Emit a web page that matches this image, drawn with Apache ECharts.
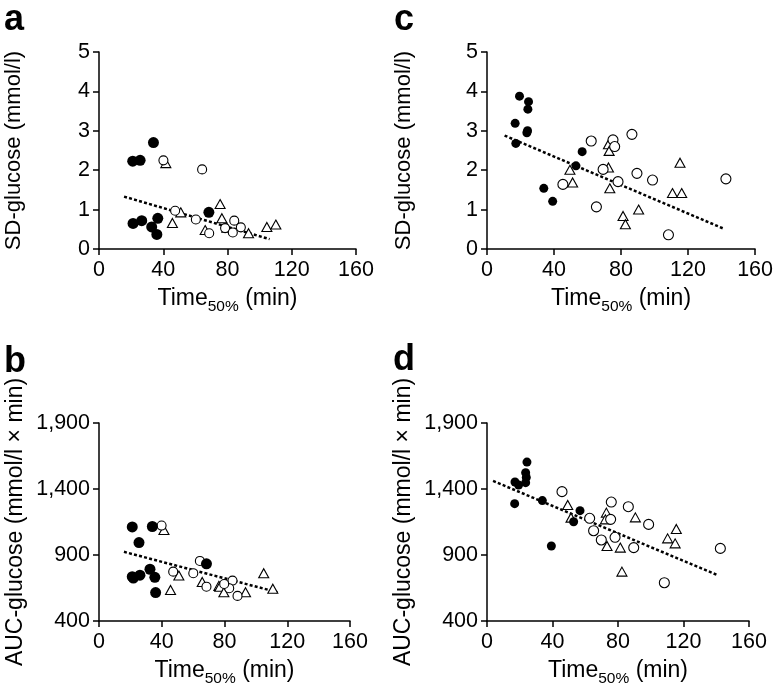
<!DOCTYPE html>
<html>
<head>
<meta charset="utf-8">
<script src="https://cdn.jsdelivr.net/npm/echarts@6/dist/echarts.min.js"></script>
<style>
  html, body { margin: 0; padding: 0; background: #fff; }
  #chart { width: 776px; height: 691px; }
</style>
</head>
<body>
<div id="chart"></div>
<script>
// x ticks shared by all panels
const xTicks = [0, 40, 80, 120, 160];
const sdTicks = [0, 1, 2, 3, 4, 5];
const aucTicks = [400, 900, 1400, 1900];

// panel a: SD-glucose vs Time50%
const aFilled = [[21.0, 2.23], [25.6, 2.25], [33.9, 2.70], [21.2, 0.65], [26.6, 0.72], [32.8, 0.56], [36.6, 0.78], [36.0, 0.37], [68.4, 0.93]];
const aOpen = [[40.1, 2.25], [64.2, 2.02], [47.4, 0.97], [60.3, 0.75], [68.6, 0.40], [84.2, 0.72], [88.3, 0.55], [78.5, 0.53], [83.3, 0.42]];
const aTri = [[41.6, 2.18], [75.4, 1.14], [50.9, 0.93], [45.7, 0.66], [76.5, 0.78], [66.1, 0.48], [79.6, 0.54], [93.1, 0.40], [104.5, 0.56], [110.1, 0.62]];
const aFit = [[15.6, 1.33], [106.2, 0.25]];

// panel b: AUC-glucose vs Time50%
const bFilled = [[21.2, 1113], [34.0, 1116], [25.5, 994], [21.2, 736], [21.9, 725], [26.1, 747], [32.5, 792], [35.6, 731], [36.1, 615], [68.5, 833]];
const bOpen = [[39.9, 1123], [64.3, 855], [47.3, 774], [60.1, 762], [68.5, 660], [85.1, 706], [83.0, 648], [88.3, 590], [79.8, 680]];
const bTri = [[41.4, 1090], [50.9, 744], [45.6, 635], [65.8, 696], [76.4, 666], [77.0, 660], [79.6, 618], [93.4, 618], [105.0, 762], [110.8, 645]];
const bFit = [[15.9, 924], [113.7, 618]];

// panel c
const cFilled = [[19.4, 3.88], [24.8, 3.74], [24.4, 3.55], [16.8, 3.19], [24.2, 3.00], [23.8, 2.95], [17.2, 2.68], [56.8, 2.47], [53.1, 2.11], [33.9, 1.54], [39.2, 1.21]];
const cOpen = [[62.2, 2.74], [75.2, 2.77], [76.2, 2.60], [86.5, 2.91], [69.3, 2.02], [45.3, 1.64], [78.2, 1.71], [89.5, 1.92], [98.8, 1.75], [142.6, 1.78], [65.3, 1.07], [108.3, 0.36]];
const cTri = [[72.5, 2.66], [72.9, 2.49], [49.5, 2.01], [51.1, 1.69], [72.5, 2.07], [73.3, 1.54], [90.5, 1.00], [81.2, 0.84], [82.6, 0.63], [115.2, 2.19], [110.7, 1.42], [116.2, 1.42]];
const cFit = [[10.5, 2.88], [141.6, 0.51]];

// panel d
const dFilled = [[24.4, 1604], [23.6, 1524], [24.0, 1488], [23.6, 1448], [17.1, 1453], [19.3, 1430], [16.9, 1289], [33.8, 1312], [56.8, 1236], [52.9, 1152], [39.3, 968]];
const dOpen = [[45.8, 1380], [75.9, 1301], [86.3, 1266], [62.7, 1178], [75.5, 1170], [65.1, 1084], [69.8, 1014], [78.2, 1034], [98.7, 1132], [89.6, 956], [142.5, 950], [108.3, 690]];
const dTri = [[49.3, 1279], [51.3, 1183], [72.9, 1221], [72.3, 1170], [90.6, 1185], [73.3, 968], [81.4, 956], [82.4, 774], [115.6, 1097], [110.3, 1026], [114.9, 988]];
const dFit = [[3.7, 1461], [141.1, 746]];

const FONT = "'Liberation Sans', Arial, sans-serif";
const axisLine = { lineStyle: { color: '#000', width: 1.5 } };
const axisTick = { length: 6, lineStyle: { color: '#000', width: 1.5 } };

function xAx(idx) {
  return {
    gridIndex: idx, type: 'value',
    min: xTicks[0], max: xTicks[xTicks.length - 1], interval: 40,
    splitLine: { show: false },
    axisLine: axisLine, axisTick: axisTick,
    axisLabel: { color: '#000', fontSize: 21.5, fontFamily: FONT, margin: 10 },
    name: '{t|Time}{s|50%}{t| (min)}',
    nameLocation: 'middle', nameGap: 34,
    nameTextStyle: {
      rich: {
        t: { fontSize: 23, fontFamily: FONT, color: '#000', lineHeight: 32, verticalAlign: 'middle' },
        s: { fontSize: 15.5, fontFamily: FONT, color: '#000', lineHeight: 15, verticalAlign: 'bottom' }
      }
    }
  };
}

function yAx(idx, ticks, name, size, gap) {
  return {
    gridIndex: idx, type: 'value',
    min: ticks[0], max: ticks[ticks.length - 1], interval: ticks[1] - ticks[0],
    splitLine: { show: false },
    axisLine: axisLine, axisTick: axisTick,
    axisLabel: {
      color: '#000', fontSize: 21.5, fontFamily: FONT, margin: 9,
      formatter: v => v.toLocaleString('en-US')
    },
    name: name, nameLocation: 'middle', nameGap: gap,
    nameTextStyle: { fontSize: size, fontFamily: FONT, color: '#000' }
  };
}

function panel(idx, filled, open, tri, fit, fsz, osz) {
  return [
    { type: 'line', xAxisIndex: idx, yAxisIndex: idx, data: fit, symbol: 'none',
      lineStyle: { color: '#000', width: 2.5, type: [3, 2.2] }, z: 1 },
    { type: 'scatter', xAxisIndex: idx, yAxisIndex: idx, data: tri, symbol: 'triangle',
      symbolSize: [10, 9], itemStyle: { color: '#fff', borderColor: '#000', borderWidth: 1.1, opacity: 1 }, z: 3 },
    { type: 'scatter', xAxisIndex: idx, yAxisIndex: idx, data: open, symbol: 'circle',
      symbolSize: osz, itemStyle: { color: '#fff', borderColor: '#000', borderWidth: 1.1, opacity: 1 }, z: 3 },
    { type: 'scatter', xAxisIndex: idx, yAxisIndex: idx, data: filled, symbol: 'circle',
      symbolSize: fsz, itemStyle: { color: '#000', opacity: 1 }, z: 4 }
  ];
}

const letter = (t, x, y) => ({
  type: 'text', x: x, y: y,
  style: { text: t, font: "bold 36px " + FONT, fill: '#000', verticalAlign: 'middle' }
});

const chart = echarts.init(document.getElementById('chart'), null, { renderer: 'canvas' });
chart.setOption({
  animation: false,
  backgroundColor: '#fff',
  textStyle: { fontFamily: FONT },
  graphic: [letter('a', 4, 20), letter('b', 4, 362), letter('c', 394, 20), letter('d', 393, 360)],
  grid: [
    { left: 99, top: 52, width: 257, height: 197 },
    { left: 99, top: 423, width: 251, height: 198 },
    { left: 487, top: 52, width: 269, height: 197 },
    { left: 487, top: 423, width: 262, height: 198 }
  ],
  xAxis: [xAx(0), xAx(1), xAx(2), xAx(3)],
  yAxis: [
    yAx(0, sdTicks, 'SD-glucose (mmol/l)', 22, 74),
    yAx(1, aucTicks, 'AUC-glucose (mmol/l × min)', 23, 72),
    yAx(2, sdTicks, 'SD-glucose (mmol/l)', 22, 72),
    yAx(3, aucTicks, 'AUC-glucose (mmol/l × min)', 23, 72)
  ],
  series: [].concat(
    panel(0, aFilled, aOpen, aTri, aFit, 11, 9),
    panel(1, bFilled, bOpen, bTri, bFit, 11, 9),
    panel(2, cFilled, cOpen, cTri, cFit, 9, 10),
    panel(3, dFilled, dOpen, dTri, dFit, 9, 10)
  )
});
</script>
</body>
</html>
